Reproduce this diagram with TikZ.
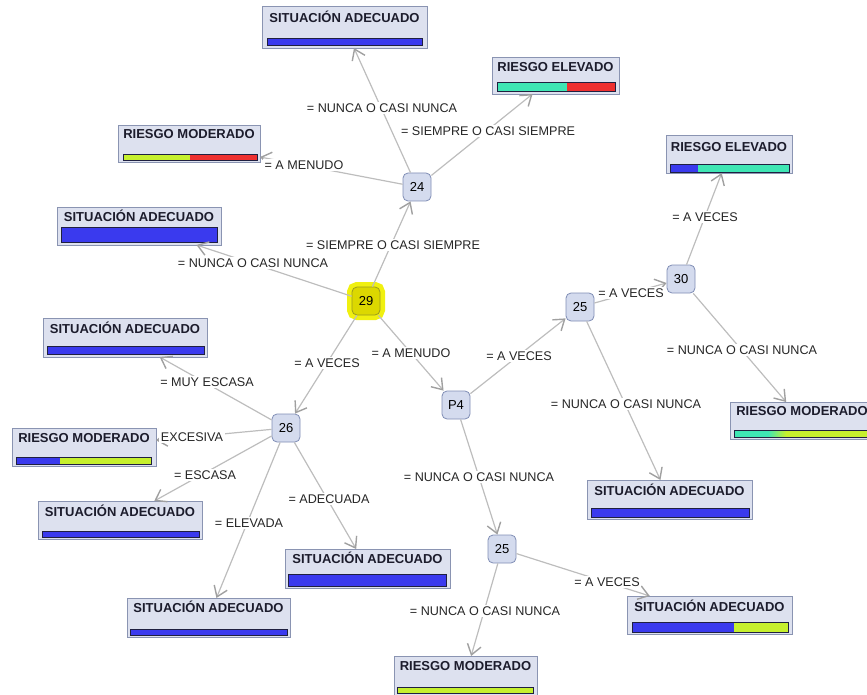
\documentclass[tikz,border=0pt]{standalone}
\usepackage{fontspec}
\setmainfont{Liberation Sans}
\usetikzlibrary{arrows.meta,positioning}

\definecolor{boxfill}{HTML}{DDE1EF}
\definecolor{boxline}{HTML}{8A94B2}
\definecolor{decfill}{HTML}{D4DBEE}
\definecolor{decline}{HTML}{7F8DB5}
\definecolor{linkgray}{HTML}{BDBDBD}
\definecolor{tipgray}{HTML}{A0A0A0}
\definecolor{barblue}{HTML}{3A3AEE}
\definecolor{barteal}{HTML}{3FE6B4}
\definecolor{barred}{HTML}{EE3030}
\definecolor{barlime}{HTML}{C6F02E}
\definecolor{barline}{HTML}{1F2040}
\definecolor{selfill}{HTML}{DCD800}
\definecolor{selline}{HTML}{9A9A20}
\definecolor{selglow}{HTML}{F0F010}
\definecolor{titletext}{HTML}{1C1C2C}

\begin{document}
\begin{tikzpicture}[x=1pt,y=-1pt,
	outcome/.style={draw=boxline, fill=boxfill, line width=0.8pt, inner sep=0pt, outer sep=0pt, anchor=north west},
	title/.style={font=\bfseries\fontsize{13}{13}\selectfont, text=titletext, inner sep=0pt, text height=9.4pt, text depth=0pt},
	dec/.style={draw=decline, fill=decfill, rounded corners=5pt, line width=0.8pt, minimum width=28pt, minimum height=28pt, inner sep=0pt, font=\fontsize{13}{13}\selectfont},
	cond/.style={fill=white, inner sep=1.5pt, font=\fontsize{12.6}{13}\selectfont, text=black!85},
	link/.style={draw=linkgray, line width=1.2pt, -{Straight Barb[length=10pt,width=14pt,line width=1.4pt,color=tipgray]}},
	bar/.style={draw=barline, line width=0.9pt}]

	\useasboundingbox (0,0) rectangle (867,695);

	% decision nodes
	\node[dec] (n24) at (417,187) {24};
	\node[dec, fill=selfill, draw=selline, preaction={draw=selglow, line width=10pt}] (n29) at (366,301) {29};
	\node[dec] (n26) at (286,428) {26};
	\node[dec] (p4) at (456,405) {P4};
	\node[dec] (n25a) at (580,307) {25};
	\node[dec] (n30) at (681,279) {30};
	\node[dec] (n25b) at (502,549) {25};

	% result boxes
	\node[outcome, minimum width=165pt, minimum height=42pt] (sitTop) at (262,6) {};
	\node[outcome, minimum width=127pt, minimum height=37pt] (riskTopR) at (492,57) {};
	\node[outcome, minimum width=142pt, minimum height=37pt] (riskTopL) at (118,125) {};
	\node[outcome, minimum width=164pt, minimum height=38pt] (sitL1) at (57,207) {};
	\node[outcome, minimum width=126pt, minimum height=38pt] (riskR) at (666,135) {};
	\node[outcome, minimum width=164pt, minimum height=39pt] (sitL2) at (43,318) {};
	\node[outcome, minimum width=144pt, minimum height=38pt] (riskL) at (12,428) {};
	\node[outcome, minimum width=164pt, minimum height=38pt] (sitL3) at (38,501) {};
	\node[outcome, minimum width=165pt, minimum height=39pt] (sitC) at (285,549) {};
	\node[outcome, minimum width=163pt, minimum height=39pt] (sitL4) at (127,598) {};
	\node[outcome, minimum width=165pt, minimum height=39pt] (sitR) at (587,480) {};
	\node[outcome, minimum width=144pt, minimum height=37pt] (riskR2) at (730,402) {};
	\node[outcome, minimum width=165pt, minimum height=38pt] (sitBR) at (627,596) {};
	\node[outcome, minimum width=143pt, minimum height=39pt] (riskB) at (394,656) {};

	\node[title, below=7pt of sitTop.north] (tTop) {SITUACIÓN ADECUADO};
	\node[title, below=5pt of riskTopR.north] (tTopR) {RIESGO ELEVADO};
	\node[title, below=4pt of riskTopL.north] (tTopL) {RIESGO MODERADO};
	\node[title, below=5pt of sitL1.north] (tL1) {SITUACIÓN ADECUADO};
	\node[title, below=7pt of riskR.north] (tR) {RIESGO ELEVADO};
	\node[title, below=6pt of sitL2.north] (tL2) {SITUACIÓN ADECUADO};
	\node[title, below=5pt of riskL.north] (tL) {RIESGO MODERADO};
	\node[title, below=6pt of sitL3.north] (tL3) {SITUACIÓN ADECUADO};
	\node[title, below=5pt of sitC.north] (tC) {SITUACIÓN ADECUADO};
	\node[title, below=5pt of sitL4.north] (tL4) {SITUACIÓN ADECUADO};
	\node[title, below=6pt of sitR.north] (tSR) {SITUACIÓN ADECUADO};
	\node[title, below=4pt of riskR2.north] (tR2) {RIESGO MODERADO};
	\node[title, below=6pt of sitBR.north] (tBR) {SITUACIÓN ADECUADO};
	\node[title, below=5pt of riskB.north] (tB) {RIESGO MODERADO};

	% bars
	\draw[bar, fill=barblue] (267,38) rectangle (422,45);
	\fill[barteal] (497,82) rectangle (567,91);
	\fill[barred] (567,82) rectangle (615,91);
	\draw[bar] (497,82) rectangle (615,91);
	\fill[barlime] (123,154) rectangle (190,160);
	\fill[barred] (190,154) rectangle (257,160);
	\draw[bar] (123,154) rectangle (257,160);
	\draw[bar, fill=barblue] (61,227) rectangle (217,242);
	\fill[barblue] (670,164) rectangle (698,172);
	\fill[barteal] (698,164) rectangle (789,172);
	\draw[bar] (670,164) rectangle (789,172);
	\draw[bar, fill=barblue] (47,346) rectangle (204,354);
	\fill[barblue] (16,457) rectangle (60,464);
	\fill[barlime] (60,457) rectangle (151,464);
	\draw[bar] (16,457) rectangle (151,464);
	\draw[bar, fill=barblue] (42,531) rectangle (199,537);
	\draw[bar, fill=barblue] (288,574) rectangle (446,586);
	\draw[bar, fill=barblue] (130,629) rectangle (287,635);
	\draw[bar, fill=barblue] (591,508) rectangle (749,517);
	\fill[barteal] (734,430) rectangle (768,437);
	\shade[left color=barteal, right color=barlime] (768,430) rectangle (786,437);
	\fill[barlime] (786,430) rectangle (870,437);
	\draw[bar] (734,430) rectangle (870,437);
	\fill[barblue] (632,622) rectangle (734,632);
	\fill[barlime] (734,622) rectangle (788,632);
	\draw[bar] (632,622) rectangle (788,632);
	\draw[bar, fill=barlime] (397,687) rectangle (533,693);

	% connectors
	\draw[link] (n29) -- (n24);
	\draw[link] (n29) -- (sitL1);
	\draw[link] (n29) -- (n26);
	\draw[link] (n29) -- (p4);
	\draw[link] (n24) -- (sitTop);
	\draw[link] (n24) -- (riskTopR);
	\draw[link] (n24) -- (riskTopL);
	\draw[link] (n26) -- (sitL2);
	\draw[link] (n26) -- (riskL);
	\draw[link] (n26) -- (sitL3);
	\draw[link] (n26) -- (sitL4);
	\draw[link] (n26) -- (sitC);
	\draw[link] (p4) -- (n25a);
	\draw[link] (p4) -- (n25b);
	\draw[link] (n25a) -- (n30);
	\draw[link] (n25a) -- (sitR);
	\draw[link] (n30) -- (riskR);
	\draw[link] (n30) -- (riskR2);
	\draw[link] (n25b) -- (sitBR);
	\draw[link] (n25b) -- (riskB);

	% conditions
	\node[cond] (c29a) at (393,245) {= SIEMPRE O CASI SIEMPRE};
	\node[cond] (c29b) at (253,263) {= NUNCA O CASI NUNCA};
	\node[cond] (c29c) at (327,363) {= A VECES};
	\node[cond] (c29d) at (411,353) {= A MENUDO};
	\node[cond] (c24a) at (382,108) {= NUNCA O CASI NUNCA};
	\node[cond] (c24b) at (488,131) {= SIEMPRE O CASI SIEMPRE};
	\node[cond] (c24c) at (304,165) {= A MENUDO};
	\node[cond] (c26a) at (207,382) {= MUY ESCASA};
	\node[cond] (c26b) at (192,437) {EXCESIVA};
	\node[cond] (c26c) at (205,475) {= ESCASA};
	\node[cond] (c26d) at (249,523) {= ELEVADA};
	\node[cond] (c26e) at (329,499) {= ADECUADA};
	\node[cond] (cp4a) at (519,356) {= A VECES};
	\node[cond] (cp4b) at (479,477) {= NUNCA O CASI NUNCA};
	\node[cond] (c25a) at (631,293) {= A VECES};
	\node[cond] (c25b) at (626,404) {= NUNCA O CASI NUNCA};
	\node[cond] (c30a) at (705,217) {= A VECES};
	\node[cond] (c30b) at (742,350) {= NUNCA O CASI NUNCA};
	\node[cond] (c25c) at (607,582) {= A VECES};
	\node[cond] (c25d) at (485,611) {= NUNCA O CASI NUNCA};

\end{tikzpicture}
\end{document}
